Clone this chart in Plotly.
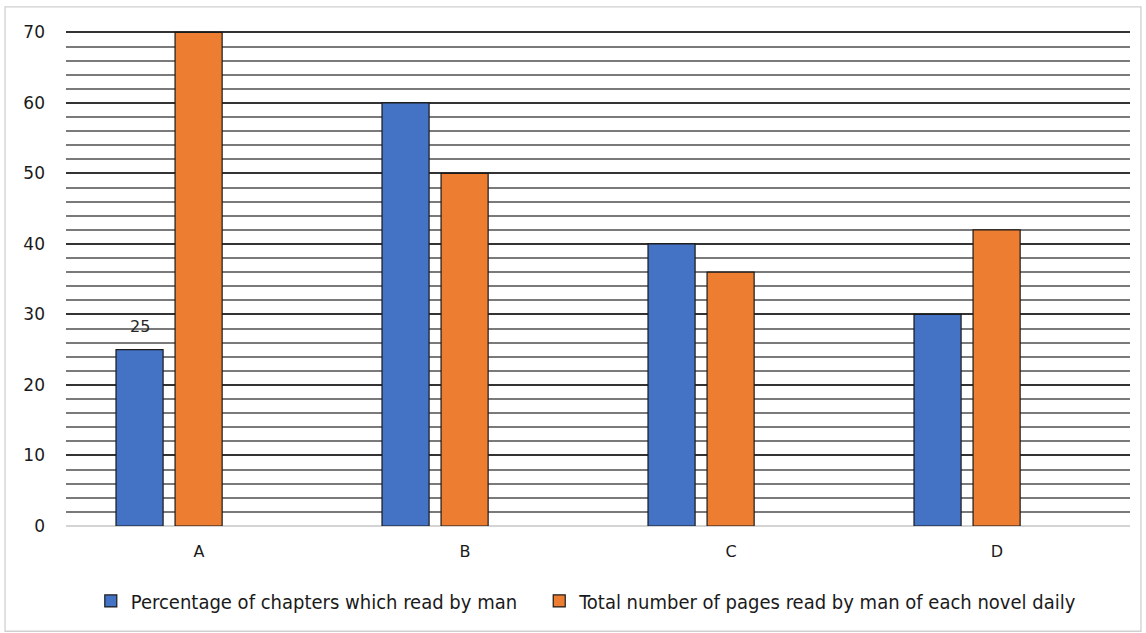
import plotly.graph_objects as go

categories = ["A", "B", "C", "D"]
chapters_pct = [25, 60, 40, 30]
pages_daily = [70, 50, 36, 42]
series_names = [
    "Percentage of chapters which read by man",
    "Total number of pages read by man of each novel daily",
]
# Data labels shown only for selected bars of the first series
labelled_categories = ["A"]

BLUE = "#4472C4"
ORANGE = "#ED7D31"
BAR_W = 0.177
BLUE_OFFSET = -0.312
ORANGE_OFFSET = -0.090
LEGEND_FONT = "Liberation Sans Narrow, DejaVu Sans Condensed, Liberation Sans, sans-serif"
LEGEND_GAP = "\u00a0" * 3  # extra spacing between the two legend entries

fig = go.Figure()
fig.add_trace(go.Bar(
    x=categories, y=chapters_pct, name=series_names[0] + LEGEND_GAP,
    marker=dict(color=BLUE, line=dict(color="#1a1a1a", width=1.2)),
    width=BAR_W, offset=BLUE_OFFSET,
))
fig.add_trace(go.Bar(
    x=categories, y=pages_daily, name=series_names[1],
    marker=dict(color=ORANGE, line=dict(color="#1a1a1a", width=1.2)),
    width=BAR_W, offset=ORANGE_OFFSET,
))

for cat in labelled_categories:
    i = categories.index(cat)
    v = chapters_pct[i]
    fig.add_annotation(
        x=i + BLUE_OFFSET + BAR_W / 2, y=v, xref="x", yref="y",
        text=str(v), showarrow=False, yanchor="bottom", yshift=12,
        font=dict(family="DejaVu Sans", size=16, color="#262626"),
    )

fig.update_layout(
    width=1146, height=633,
    margin=dict(l=66, r=16, t=31, b=107, autoexpand=False),
    paper_bgcolor="white", plot_bgcolor="white",
    barmode="overlay",
    showlegend=True,
    legend=dict(
        orientation="h", x=0.489, xanchor="center", y=-0.112, yanchor="top",
        font=dict(family=LEGEND_FONT, size=20, color="#1a1a1a"),
        itemwidth=30, traceorder="normal",
    ),
    font=dict(family="DejaVu Sans", color="#1a1a1a"),
)
fig.update_xaxes(
    type="category", showgrid=False, showline=False, ticks="",
    tickfont=dict(family="DejaVu Sans", size=16, color="#1a1a1a"),
    ticklabelstandoff=14,
)
fig.update_yaxes(
    range=[0, 70.2], tick0=0, dtick=10, showgrid=True, gridcolor="#333333", gridwidth=1.5,
    zeroline=True, zerolinecolor="#d4d4d4", zerolinewidth=1.5,
    showline=False, ticks="",
    tickfont=dict(family="DejaVu Sans", size=17, color="#1a1a1a"),
    ticklabelstandoff=20,
    minor=dict(dtick=2, showgrid=True, gridcolor="#7a7a7a", gridwidth=1.5),
)

# Light frame around the whole chart
fig.add_shape(
    type="rect", xref="paper", yref="paper",
    x0=-0.0573, x1=1.0103, y0=-0.2126, y1=1.0486,
    line=dict(color="#d0d0d0", width=1.3), fillcolor="rgba(0,0,0,0)",
    layer="below",
)

fig.write_html("out.html")
